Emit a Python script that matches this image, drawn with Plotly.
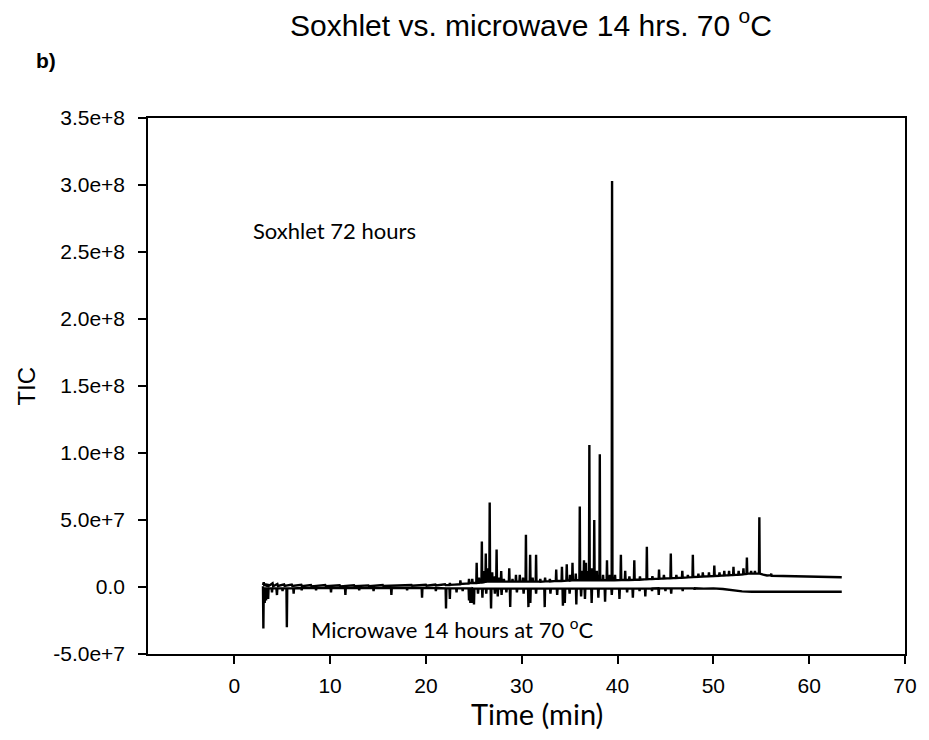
import plotly.graph_objects as go

# ---------------- data (TIC in millions of counts) ----------------
soxhlet_time = [3.0, 3.08, 3.14, 3.3, 3.36, 3.55, 3.6, 4.0, 4.06, 4.5, 4.56, 5.2, 5.26, 6.0, 6.06, 7.0, 7.06,
                8.0, 8.06, 9.5, 9.56, 11.0, 11.06, 12.5, 12.56, 14.0, 14.06, 15.5, 15.56, 17.0, 17.06, 18.5,
                18.56, 20.0, 20.06, 21.0, 21.06, 22.0, 22.06, 22.46, 22.5, 22.54, 23.0, 23.56, 23.6, 23.64,
                24.2, 24.46, 24.5, 24.54, 24.8, 24.84, 24.88, 25.26, 25.3, 25.34, 25.5, 25.54, 25.58, 25.8,
                25.84, 25.88, 26.0, 26.04, 26.08, 26.21, 26.25, 26.29, 26.41, 26.45, 26.49, 26.62, 26.66,
                26.70, 26.88, 26.92, 26.96, 27.16, 27.2, 27.24, 27.34, 27.38, 27.42, 27.6, 27.64, 27.68,
                27.82, 27.86, 27.9, 28.1, 28.14, 28.18, 28.66, 28.7, 28.74, 29.0, 29.04, 29.08, 29.36, 29.4,
                29.44, 29.76, 29.8, 29.84, 30.1, 30.14, 30.18, 30.4, 30.44, 30.48, 30.84, 30.88, 30.92, 31.1,
                31.14, 31.18, 31.46, 31.5, 31.54, 31.9, 31.94, 31.98, 32.4, 32.44, 32.48, 32.9, 32.94, 32.98,
                33.56, 33.6, 33.64, 34.16, 34.2, 34.24, 34.66, 34.7, 34.74, 35.0, 35.04, 35.08, 35.26, 35.3,
                35.34, 35.6, 35.64, 35.68, 36.02, 36.06, 36.10, 36.3, 36.34, 36.38, 36.46, 36.5, 36.54, 36.66,
                36.7, 36.74, 36.85, 36.88, 36.92, 37.02, 37.06, 37.10, 37.3, 37.33, 37.37, 37.53, 37.57,
                37.61, 37.8, 37.84, 37.88, 38.11, 38.15, 38.19, 38.45, 38.49, 38.53, 38.86, 38.9, 38.94,
                39.15, 39.19, 39.23, 39.39, 39.43, 39.47, 39.7, 39.74, 39.78, 40.31, 40.35, 40.39, 40.76,
                40.8, 40.84, 41.2, 41.24, 41.28, 41.71, 41.75, 41.79, 42.3, 42.34, 42.38, 43.02, 43.06, 43.1,
                43.6, 43.64, 43.68, 44.29, 44.33, 44.37, 44.8, 44.84, 44.88, 45.52, 45.56, 45.6, 46.1, 46.14,
                46.18, 46.72, 46.76, 46.8, 47.3, 47.34, 47.38, 47.82, 47.86, 47.9, 48.4, 48.44, 48.48, 48.86,
                48.9, 48.94, 49.5, 49.54, 49.58, 50.06, 50.1, 50.14, 50.6, 50.64, 50.68, 51.1, 51.14, 51.18,
                51.6, 51.64, 51.68, 52.06, 52.1, 52.14, 52.6, 52.64, 52.68, 53.1, 53.14, 53.18, 53.46, 53.5,
                53.54, 53.9, 53.94, 53.98, 54.3, 54.34, 54.38, 54.76, 54.8, 54.84, 55.2, 55.6, 56.0, 56.04,
                56.08, 57.0, 58.0, 59.0, 60.0, 61.0, 62.0, 63.4]
soxhlet_tic = [1.5, 3.5, 0.8, 2.5, 0.5, 2.0, 0.8, 2.8, 0.6, 2.2, 0.8, 2.0, 0.8, 1.8, 0.8, 1.6, 0.6,
               1.5, 0.5, 1.4, 0.6, 1.3, 0.5, 1.3, 0.6, 1.2, 0.6, 1.4, 0.7, 1.3, 0.8, 1.5,
               0.9, 1.6, 1.0, 1.8, 1.2, 2.0, 1.4, 1.5, 3.0, 1.6, 1.8, 2.0, 5.0, 2.2,
               2.5, 2.5, 6.0, 2.8, 3.0, 6.0, 3.0, 3.0, 18, 3.2, 3.2, 7, 3.4, 3.4,
               34, 3.6, 3.6, 12, 3.8, 3.8, 25, 4.0, 4.0, 14, 4.0, 4.0, 63,
               4.0, 4.0, 11, 4.0, 4.0, 8, 4.0, 4.0, 28, 4.0, 4.0, 7, 4.0,
               4.0, 12, 4.0, 4.0, 6, 4.0, 4.0, 14, 4.0, 4.0, 6, 4.0, 4.0, 9,
               4.0, 4.0, 9, 4.0, 4.0, 7, 4.0, 4.0, 39, 4.0, 4.0, 24, 4.0, 4.0,
               7, 4.0, 4.0, 24, 4.0, 4.0, 6, 4.0, 4.2, 7, 4.2, 4.2, 6, 4.2,
               4.5, 13, 4.5, 4.5, 15, 4.5, 4.8, 17, 4.8, 4.8, 9, 4.8, 5.0, 18,
               5.0, 5.0, 10, 5.0, 5.0, 60, 5.0, 5.0, 12, 5.0, 5.0, 20, 5.0, 5.0,
               18, 5.0, 5.0, 12, 5.0, 5.0, 106, 5.0, 5.0, 14, 5.0, 5.0, 50,
               5.0, 5.0, 12, 5.0, 5.0, 99, 5.0, 5.0, 9, 5.0, 5.0, 20, 5.0,
               5.0, 9, 5.0, 5.0, 303, 5.0, 5.0, 9, 5.0, 5.2, 24, 5.2, 5.2,
               12, 5.2, 5.2, 8, 5.2, 5.4, 20, 5.4, 5.5, 8, 5.5, 5.8, 30, 5.8,
               6.0, 8, 6.0, 6.2, 13, 6.2, 6.4, 9, 6.4, 6.6, 25, 6.6, 6.8, 9,
               6.8, 7.0, 12, 7.0, 7.2, 9, 7.2, 7.4, 24, 7.4, 7.6, 10, 7.6, 7.8,
               11, 7.8, 8.0, 11, 8.0, 8.2, 16, 8.2, 8.4, 11, 8.4, 8.6, 12, 8.6,
               8.8, 12, 8.8, 9.0, 15, 9.0, 9.2, 12, 9.2, 9.4, 14, 9.6, 9.8, 22,
               10, 10, 12, 10, 10, 12, 10, 10, 52, 10, 9.2, 8.6, 8.8, 10,
               8.4, 8.2, 8.0, 7.8, 7.6, 7.5, 7.4, 7.3]

microwave_time = [3.0, 3.04, 3.08, 3.14, 3.18, 3.22, 3.28, 3.32, 3.36, 3.5, 3.54, 3.58, 3.9, 3.94, 3.98,
                  4.4, 4.46, 4.5, 5.0, 5.04, 5.08, 5.45, 5.49, 5.53, 6.16, 6.2, 6.24, 7.0, 7.04, 7.08, 8.5,
                  8.54, 8.58, 10.06, 10.1, 10.14, 11.56, 11.6, 11.64, 13.0, 13.04, 13.08, 14.5, 14.54, 14.58,
                  16.36, 16.4, 16.44, 18.0, 18.04, 18.08, 19.56, 19.6, 19.64, 21.0, 21.04, 21.08, 22.06, 22.1,
                  22.14, 22.46, 22.5, 22.54, 23.16, 23.2, 23.24, 23.8, 23.84, 23.88, 24.46, 24.5, 24.54, 24.6,
                  24.64, 24.68, 24.82, 24.86, 24.9, 24.98, 25.02, 25.06, 25.4, 25.44, 25.48, 25.86, 25.9,
                  25.94, 26.26, 26.3, 26.34, 26.76, 26.8, 26.84, 27.16, 27.2, 27.24, 27.46, 27.5, 27.54, 27.86,
                  27.9, 27.94, 28.36, 28.4, 28.44, 28.76, 28.8, 28.84, 29.46, 29.5, 29.54, 30.16, 30.2, 30.24,
                  30.66, 30.7, 30.74, 30.86, 30.9, 30.94, 31.46, 31.5, 31.54, 32.36, 32.4, 32.44, 32.96, 33.0,
                  33.04, 33.66, 33.7, 33.74, 34.26, 34.3, 34.34, 34.46, 34.5, 34.54, 34.96, 35.0, 35.04, 35.66,
                  35.7, 35.74, 36.16, 36.2, 36.24, 36.56, 36.6, 36.64, 37.26, 37.3, 37.34, 37.96, 38.0, 38.04,
                  38.66, 38.7, 38.74, 39.36, 39.4, 39.44, 40.16, 40.2, 40.24, 40.96, 41.0, 41.04, 41.56, 41.6,
                  41.64, 42.26, 42.3, 42.34, 42.86, 42.9, 42.94, 43.56, 43.6, 43.64, 44.26, 44.3, 44.34, 44.96,
                  45.0, 45.04, 45.56, 45.6, 45.64, 46.76, 46.8, 46.84, 48.0, 48.04, 48.08, 49.0, 50.0, 51.0,
                  52.0, 53.0, 54.0, 56.0, 58.0, 60.0, 63.4]
microwave_tic = [0.5, -31, -1, -1, -12, -1, -1, -10, -1, -1, -9, -1, -1, -4, -1,
                 -1, -6, -1, -1, -3, -1, -1, -30, -1, -1, -5, -1, -0.8, -2.5, -0.8, -0.8,
                 -2.5, -0.8, -0.8, -4, -0.8, -0.8, -6, -0.8, -0.8, -2.5, -0.8, -0.8, -3, -0.8,
                 -0.8, -6, -0.8, -0.8, -2.5, -0.8, -0.8, -8, -0.8, -0.8, -3, -0.8, -1, -16,
                 -1, -1, -9, -1, -1, -4, -1, -1, -3, -1, -1, -10, -1, -1,
                 -12, -1, -1, -12, -1, -1.2, -13, -1.2, -1.2, -5, -1.2, -1.2, -8,
                 -1.2, -1.2, -5, -1.2, -1.2, -16, -1.2, -1.2, -5, -1.2, -1.2, -7, -1.2, -1.2,
                 -6, -1.2, -1.2, -4, -1.2, -1.2, -15, -1.2, -1.2, -4, -1.2, -1.2, -5, -1.2,
                 -1.2, -15, -1.2, -1.2, -12, -1.2, -1.2, -5, -1.2, -1.2, -15, -1.2, -1.2, -5,
                 -1.2, -1.2, -6, -1.2, -1.2, -14, -1.2, -1.2, -12, -1.2, -1.2, -5, -1.2, -1.2,
                 -13, -1.2, -1.2, -7, -1.2, -1.2, -9, -1.2, -1.2, -12, -1.2, -1.2, -8, -1.2,
                 -1.2, -11, -1.2, -1.2, -6, -1.2, -1.2, -9, -1.2, -1.2, -4, -1.2, -1.2, -8,
                 -1.2, -1.2, -3, -1.2, -1.2, -7, -1.2, -1.1, -3, -1.1, -1.0, -6, -1.0, -1.0,
                 -3, -1.0, -1.0, -5, -1.0, -1.0, -3, -1.0, -1.0, -2, -1.0, -1.2, -1.0, -1.5,
                 -2.5, -3.3, -3.5, -3.5, -3.5, -3.5, -3.5]

y_tick_values = [-5e7, 0, 5e7, 1e8, 1.5e8, 2e8, 2.5e8, 3e8, 3.5e8]
y_tick_labels = ["-5.0e+7", "0.0", "5.0e+7", "1.0e+8", "1.5e+8", "2.0e+8", "2.5e+8", "3.0e+8", "3.5e+8"]
x_tick_values = [0, 10, 20, 30, 40, 50, 60, 70]

SCALE = 1e6

fig = go.Figure()
fig.add_trace(go.Scatter(x=microwave_time, y=[v * SCALE for v in microwave_tic], mode="lines",
                         line=dict(color="black", width=2.4), showlegend=False))
fig.add_trace(go.Scatter(x=soxhlet_time, y=[v * SCALE for v in soxhlet_tic], mode="lines",
                         line=dict(color="black", width=2.4), showlegend=False))

W, H = 929, 740
L, R, T, B = 148, 14, 118, 86

fig.update_layout(
    width=W, height=H,
    margin=dict(l=L, r=R, t=T, b=B),
    paper_bgcolor="white", plot_bgcolor="white",
    title=dict(text="Soxhlet vs. microwave 14 hrs. 70 <sup>o</sup>C", x=531 / W, xanchor="center",
               y=1 - 25 / H, yanchor="middle",
               font=dict(family="Liberation Sans, Arial", size=30, color="black")),
    xaxis=dict(range=[-9, 70], tickvals=x_tick_values, ticks="outside", ticklen=8, tickwidth=1.5,
               tickcolor="black", showline=True, linecolor="black", linewidth=1.5, mirror=True,
               showgrid=False, zeroline=False, ticklabelstandoff=4,
               tickfont=dict(family="Liberation Sans Narrow, Liberation Sans, Arial", size=21, color="black")),
    yaxis=dict(range=[-5e7, 3.5e8], tickvals=y_tick_values, ticktext=y_tick_labels, ticks="outside",
               ticklen=8, tickwidth=1.5, tickcolor="black", showline=True, linecolor="black", linewidth=1.5,
               mirror=True, showgrid=False, zeroline=False, ticklabelstandoff=9,
               tickfont=dict(family="Liberation Sans, Arial", size=21, color="black")),
    annotations=[
        dict(text="<b>b)</b>", xref="paper", yref="paper", x=(32 - L) / (W - L - R), y=(H - B - 60) / (H - T - B),
             xanchor="left", yanchor="middle", showarrow=False,
             font=dict(family="Liberation Sans, Arial", size=21, color="black")),
        dict(text="TIC", xref="paper", yref="paper", x=(24 - L) / (W - L - R), y=0.5, textangle=-90,
             xanchor="center", yanchor="middle", showarrow=False,
             font=dict(family="Liberation Sans, Arial", size=24, color="black")),
        dict(text="Time (min)", xref="paper", yref="paper", x=(542 - L) / (W - L - R), y=(H - B - 713) / (H - T - B),
             xanchor="center", yanchor="middle", showarrow=False,
             font=dict(family="Lato, Open Sans", size=29, color="black")),
        dict(text="Soxhlet 72 hours", xref="x", yref="y", x=1.8, y=2.66e8, xanchor="left", yanchor="middle",
             showarrow=False, font=dict(family="Lato, Open Sans", size=22, color="black")),
        dict(text="Microwave 14 hours at 70 <sup>o</sup>C", xref="x", yref="y", x=7.8, y=-3.06e7,
             xanchor="left", yanchor="middle", showarrow=False,
             font=dict(family="Lato, Open Sans", size=22, color="black")),
    ],
)

fig.write_html("out.html")
